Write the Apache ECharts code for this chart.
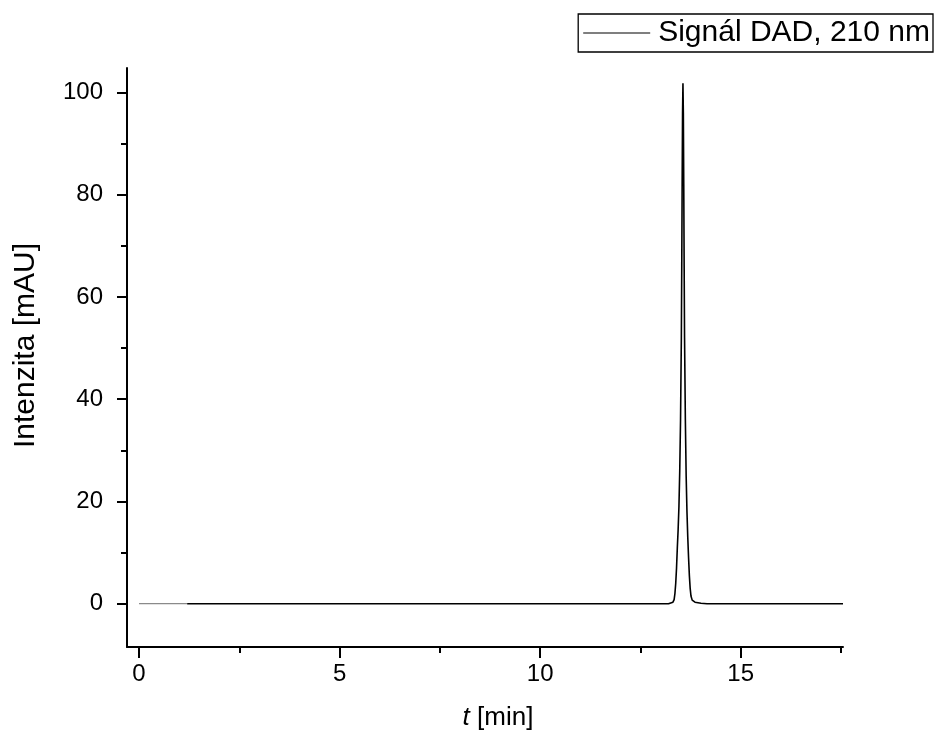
<!DOCTYPE html>
<html>
<head>
<meta charset="utf-8">
<script src="https://cdn.jsdelivr.net/npm/echarts@6/dist/echarts.min.js"></script>
<style>
html,body{margin:0;padding:0;background:#fff;}
#chart{width:936px;height:738px;}
</style>
</head>
<body>
<div id="chart"></div>
<script>
// ---- data ----
const seriesName = 'Signál DAD, 210 nm';
const startT = [0, 1.2];
const startV = [0, 0];
const signalT = [1.2, 5, 10, 13.2, 13.31, 13.34, 13.36, 13.38, 13.40, 13.42, 13.44, 13.46, 13.48, 13.50, 13.52, 13.53, 13.54, 13.55, 13.56, 13.57, 13.58, 13.59, 13.60, 13.62, 13.64, 13.66, 13.68, 13.70, 13.72, 13.74, 13.76, 13.79, 13.86, 14.01, 14.16, 17.55];
const signalV = [0, 0, 0, 0, 0.3, 0.8, 2, 4, 7, 11, 14.5, 19, 26, 36, 52, 66, 82, 96, 101.8, 96, 82, 66, 52, 36, 25, 18, 13, 9, 5.5, 3, 1.5, 0.7, 0.3, 0.1, 0, 0];
const xMajorTicks = [0, 5, 10, 15];
const xMinorTicks = [2.5, 7.5, 12.5, 17.5];
const yMajorTicks = [0, 20, 40, 60, 80, 100];
const yMinorTicks = [10, 30, 50, 70, 90];

const zip = (a, b) => a.map((v, i) => [v, b[i]]);
const FONT = 'Liberation Sans, Arial, sans-serif';
const X_MIN = -0.3, X_MAX = 17.55, Y_MIN = -8.47, Y_MAX = 104.8;

const chart = echarts.init(document.getElementById('chart'));
const axisCommon = {
  type: 'value',
  splitLine: {show: false},
  axisLine: {show: true, onZero: false, lineStyle: {color: '#000', width: 2}},
};
chart.setOption({
  animation: false,
  backgroundColor: '#fff',
  grid: {left: 127, right: 93, top: 68, bottom: 91, containLabel: false},
  legend: {
    data: [{name: seriesName, icon: 'rect'}],
    right: 3, top: 14,
    itemWidth: 67, itemHeight: 1.2,
    padding: [4, 3, 4, 5],
    borderColor: '#000', borderWidth: 1.3,
    textStyle: {fontFamily: FONT, fontSize: 30, color: '#000', padding: [0, 0, 0, 3]},
    selectedMode: false
  },
  xAxis: [
    Object.assign({}, axisCommon, {
      min: X_MIN, max: X_MAX, position: 'bottom',
      name: '{i|t} [min]', nameLocation: 'middle', nameGap: 58,
      nameTextStyle: {fontFamily: FONT, fontSize: 26, color: '#000', padding: [0, 0, 0, 26],
        rich: {i: {fontFamily: FONT, fontSize: 26, fontStyle: 'italic', color: '#000'}}},
      axisTick: {show: true, inside: false, length: 11, lineStyle: {color: '#000', width: 2}, customValues: xMajorTicks},
      axisLabel: {show: true, margin: 15, fontFamily: FONT, fontSize: 24, color: '#000', customValues: xMajorTicks}
    }),
    Object.assign({}, axisCommon, {
      min: X_MIN, max: X_MAX, position: 'bottom',
      axisLine: {show: false, onZero: false},
      axisTick: {show: true, inside: false, length: 6, lineStyle: {color: '#000', width: 2}, customValues: xMinorTicks},
      axisLabel: {show: false}
    })
  ],
  yAxis: [
    Object.assign({}, axisCommon, {
      min: Y_MIN, max: Y_MAX, position: 'left',
      name: 'Intenzita [mAU]', nameLocation: 'middle', nameGap: 86, nameRotate: 90,
      nameTextStyle: {fontFamily: FONT, fontSize: 30, color: '#000', padding: [0, 0, 0, 24]},
      axisTick: {show: true, inside: false, length: 10, lineStyle: {color: '#000', width: 2}, customValues: yMajorTicks},
      axisLabel: {show: true, margin: 24, fontFamily: FONT, fontSize: 24, color: '#000', customValues: yMajorTicks}
    }),
    Object.assign({}, axisCommon, {
      min: Y_MIN, max: Y_MAX, position: 'left',
      axisLine: {show: false, onZero: false},
      axisTick: {show: true, inside: false, length: 6, lineStyle: {color: '#000', width: 2}, customValues: yMinorTicks},
      axisLabel: {show: false}
    })
  ],
  series: [
    {
      name: seriesName, type: 'line', showSymbol: false, symbol: 'none',
      xAxisIndex: 0, yAxisIndex: 0,
      data: zip(signalT, signalV),
      lineStyle: {color: '#000', width: 1.6},
      itemStyle: {color: '#000'},
      z: 3
    },
    {
      name: 'start', type: 'line', showSymbol: false, symbol: 'none',
      xAxisIndex: 0, yAxisIndex: 0,
      data: zip(startT, startV),
      lineStyle: {color: '#8a8a8a', width: 1.2},
      z: 2
    }
  ]
});
</script>
</body>
</html>
